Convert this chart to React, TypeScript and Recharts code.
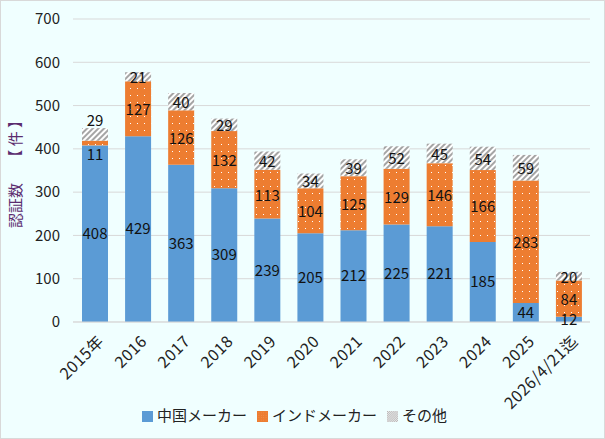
import React from 'react';
import { BarChart, Bar, XAxis, YAxis, CartesianGrid, Legend, LabelList } from 'recharts';

const years = ['2015年', '2016', '2017', '2018', '2019', '2020', '2021', '2022', '2023', '2024', '2025', '2026/4/21迄'];
const china = [408, 429, 363, 309, 239, 205, 212, 225, 221, 185, 44, 12];
const india = [11, 127, 126, 132, 113, 104, 125, 129, 146, 166, 283, 84];
const other = [29, 21, 40, 29, 42, 34, 39, 52, 45, 54, 59, 20];
const yTicks = [0, 100, 200, 300, 400, 500, 600, 700];

const data = years.map((name, i) => ({ name, china: china[i], india: india[i], other: other[i] }));

const FONT = '"Noto Sans CJK JP", "Noto Sans", sans-serif';

function XTick(props: any) {
    const { x, y, payload } = props;
    return (
        <g transform={`translate(${x + 4},${y + 6})`}>
            <text textAnchor="end" transform="rotate(-45)" fontSize={16} fill="#222" fontFamily={FONT} dy={9} letterSpacing={0.5}>
                {payload.value}
            </text>
        </g>
    );
}

// small orange segment: label sits just under it, and the grey label goes on top of the bar
function IndiaLabel(props: any) {
    const { x, y, width, height, value } = props;
    const small = height < 15;
    const cy = small ? y + height + 8 : y + height / 2;
    return (
        <text x={x + width / 2} y={cy} textAnchor="middle" dominantBaseline="central" fontSize={15} fill="#111" fontFamily={FONT}>
            {value}
        </text>
    );
}

function OtherLabel(props: any) {
    const { x, y, width, height, value, index } = props;
    const below = india[index] < 30;
    const cy = below ? y - 9 : y + height / 2;
    return (
        <text x={x + width / 2} y={cy} textAnchor="middle" dominantBaseline="central" fontSize={15} fill="#111" fontFamily={FONT}>
            {value}
        </text>
    );
}

export default function App() {
    return (
        <div style={{ position: 'absolute', left: 0, top: 0, width: 603, height: 437, background: '#F0FFFF', border: '1px solid #d9d9d9', fontFamily: FONT }}>
            <svg width={0} height={0} style={{ position: 'absolute' }}>
                <defs>
                    <pattern id="dots" width={7} height={7} patternUnits="userSpaceOnUse">
                        <rect width={7} height={7} fill="#ED7D31" />
                        <rect x={3} y={3} width={1} height={1} fill="#ffffff" />
                    </pattern>
                    <pattern id="hatch" width={4} height={4} patternUnits="userSpaceOnUse" patternTransform="rotate(45)">
                        <rect width={4} height={4} fill="#A5A5A5" />
                        <rect width={2} height={4} fill="#ffffff" />
                    </pattern>
                </defs>
            </svg>
            <BarChart width={603} height={437} data={data} margin={{ top: 18, right: 14, bottom: 4, left: 8 }}>
                <CartesianGrid vertical={false} stroke="#d9d9d9" />
                <XAxis dataKey="name" interval={0} tick={<XTick />} tickLine={false} axisLine={{ stroke: '#d9d9d9' }} height={82} />
                <YAxis
                    domain={[0, 700]}
                    ticks={yTicks}
                    width={64}
                    axisLine={false}
                    tickLine={false}
                    tick={{ fontSize: 15, fill: '#222', fontFamily: FONT, dx: -5 }}
                    label={{ value: '認証数　 【 件 】', angle: -90, position: 'insideLeft', offset: 7, style: { fontSize: 15, fill: '#5b2c6f', fontFamily: FONT, textAnchor: 'middle' } }}
                />
                <Legend
                    verticalAlign="bottom"
                    iconType="square"
                    iconSize={11}
                    height={30}
                    itemSorter="dataKey"
                    wrapperStyle={{ fontSize: 15, color: '#222', fontFamily: FONT }}
                    formatter={(v) => <span style={{ color: '#222' }}>{v}</span>}
                />
                <Bar dataKey="china" name="中国メーカー" stackId="a" fill="#5B9BD5" barSize={26} isAnimationActive={false}>
                    <LabelList dataKey="china" position="center" fill="#111" fontSize={15} />
                </Bar>
                <Bar dataKey="india" name="インドメーカー" stackId="a" fill="url(#dots)" barSize={26} isAnimationActive={false}>
                    <LabelList dataKey="india" content={<IndiaLabel />} />
                </Bar>
                <Bar dataKey="other" name="その他" stackId="a" fill="url(#hatch)" barSize={26} isAnimationActive={false}>
                    <LabelList dataKey="other" content={<OtherLabel />} />
                </Bar>
            </BarChart>
        </div>
    );
}
